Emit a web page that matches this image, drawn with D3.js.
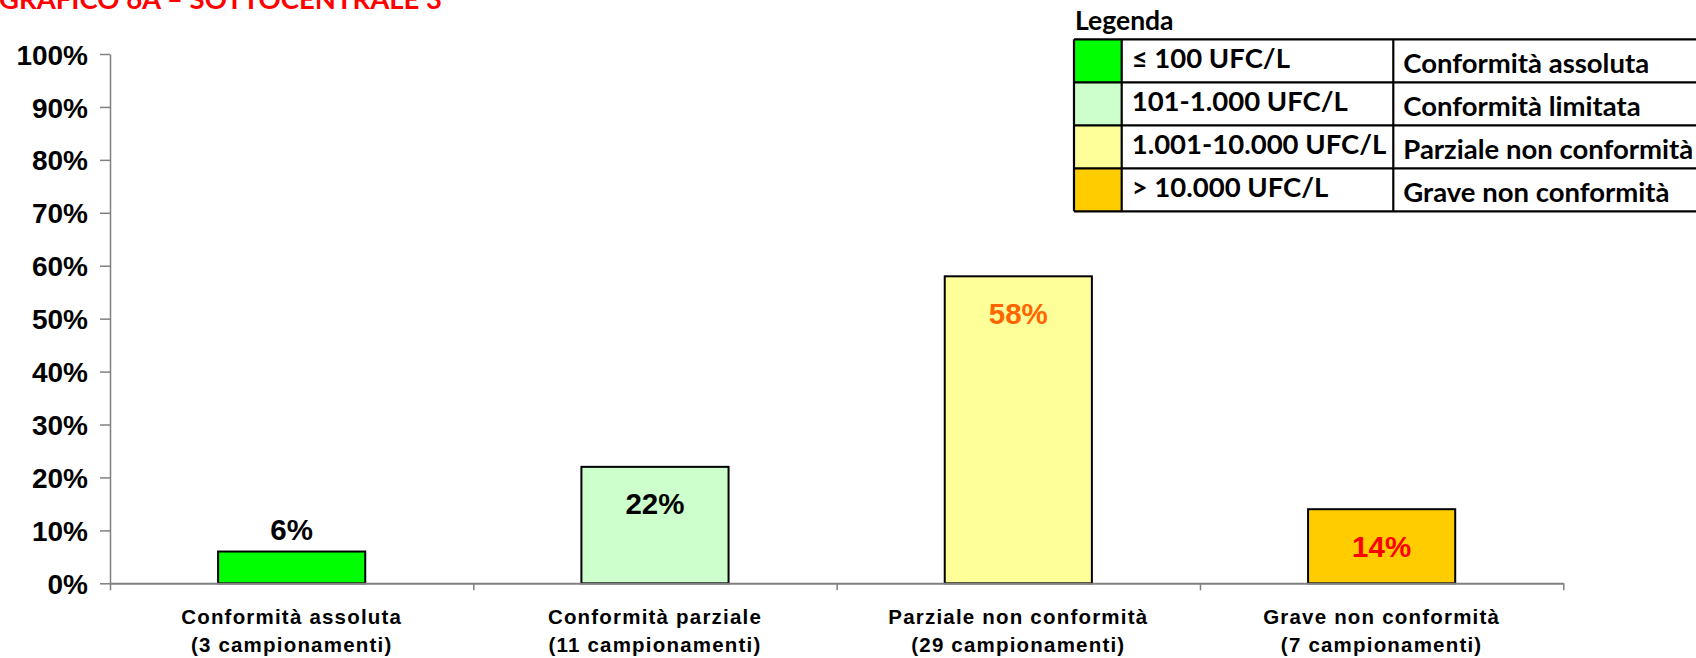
<!DOCTYPE html>
<html>
<head>
<meta charset="utf-8">
<script src="https://cdn.jsdelivr.net/npm/d3@7"></script>
<style>
  html, body { margin: 0; padding: 0; background: #fff; overflow: hidden; }
  svg { display: block; }
</style>
</head>
<body>
<svg id="chart" width="1696" height="658"></svg>
<script>
// ---- data ----
const categories = ["Conformità assoluta", "Conformità parziale", "Parziale non conformità", "Grave non conformità"];
const samples = ["(3 campionamenti)", "(11 campionamenti)", "(29 campionamenti)", "(7 campionamenti)"];
const values = [6, 22, 58, 14];
const barColors = ["#00FF00", "#CCFFCC", "#FFFF99", "#FFCC00"];
const labelColors = ["#000000", "#000000", "#FF6600", "#FF0000"];
const yTicks = [0, 10, 20, 30, 40, 50, 60, 70, 80, 90, 100];
const legendRanges = ["≤ 100 UFC/L", "101-1.000 UFC/L", "1.001-10.000 UFC/L", "> 10.000 UFC/L"];
const legendLabels = ["Conformità assoluta", "Conformità limitata", "Parziale non conformità", "Grave non conformità"];
const titleText = "GRAFICO 6A – SOTTOCENTRALE 3";

// ---- layout ----
const svg = d3.select("#chart");
const plot = { left: 110, right: 1563.3, top: 54, bottom: 583.3 };
const arial = "'Liberation Sans', Arial, sans-serif";
const calibri = "Lato, 'Open Sans', sans-serif";
const axisGray = "#808080";

const x = d3.scaleBand().domain(categories).range([plot.left, plot.right])
  .paddingInner(0.595).paddingOuter(0.2975);
const xBound = d3.scaleLinear().domain([0, categories.length]).range([plot.left, plot.right]);
const y = d3.scaleLinear().domain([0, 100]).range([plot.bottom, plot.top]);

// title (partially clipped at top, as in the original)
svg.append("text").attr("x", -1).attr("y", 9)
  .attr("fill", "#FF0000").attr("font-family", calibri).attr("font-weight", 700)
  .attr("font-size", 27.5).text(titleText);

// y axis
const yAxis = svg.append("g").attr("transform", `translate(${plot.left},0)`)
  .call(d3.axisLeft(y).tickValues(yTicks).tickFormat(d => d + "%")
    .tickSizeInner(10).tickSizeOuter(0).tickPadding(12));
yAxis.select(".domain").attr("stroke", axisGray).attr("stroke-width", 1.5);
yAxis.selectAll(".tick line").attr("stroke", axisGray).attr("stroke-width", 1.5);
yAxis.selectAll(".tick text").attr("font-family", arial).attr("font-weight", 700)
  .attr("font-size", 28).attr("fill", "#000").attr("dy", "0.36em");

// bars
svg.append("g").selectAll("rect").data(values).join("rect")
  .attr("x", (d, i) => x(categories[i]))
  .attr("y", d => y(d))
  .attr("width", x.bandwidth())
  .attr("height", d => y(0) - y(d))
  .attr("fill", (d, i) => barColors[i])
  .attr("stroke", "#000").attr("stroke-width", 2);

// x axis (ticks at category boundaries)
const xAxis = svg.append("g").attr("transform", `translate(0,${plot.bottom})`)
  .call(d3.axisBottom(xBound).tickValues(d3.range(categories.length + 1)).tickFormat("")
    .tickSizeInner(7).tickSizeOuter(0));
xAxis.select(".domain").attr("stroke", axisGray).attr("stroke-width", 2);
xAxis.selectAll(".tick line").attr("stroke", axisGray).attr("stroke-width", 1.5);

// value labels
svg.append("g").selectAll("text").data(values).join("text")
  .attr("x", (d, i) => x(categories[i]) + x.bandwidth() / 2)
  .attr("y", d => d < 10 ? y(d) - 22 : y(d) + 37)
  .attr("dy", "0.36em")
  .attr("text-anchor", "middle")
  .attr("font-family", arial).attr("font-weight", 700).attr("font-size", 29.5)
  .attr("fill", (d, i) => labelColors[i])
  .text(d => d + "%");

// category labels
const catG = svg.append("g").selectAll("text").data(categories).join("text")
  .attr("x", d => x(d) + x.bandwidth() / 2)
  .attr("text-anchor", "middle")
  .attr("font-family", arial).attr("font-weight", 700).attr("font-size", 20.5)
  .attr("letter-spacing", 1.2).attr("fill", "#000");
catG.append("tspan").attr("x", d => x(d) + x.bandwidth() / 2).attr("y", 623.5).text(d => d);
catG.append("tspan").attr("x", d => x(d) + x.bandwidth() / 2).attr("y", 652).text((d, i) => samples[i]);

// legend
const lg = { left: 1074, top: 39.3, rowH: 43, c1: 1121.7, c2: 1393.3, right: 1720 };
svg.append("text").attr("x", 1075).attr("y", 29.5)
  .attr("font-family", calibri).attr("font-weight", 700).attr("font-size", 26.5)
  .attr("fill", "#000").text("Legenda");
const rows = svg.append("g").selectAll("g").data(legendRanges).join("g")
  .attr("transform", (d, i) => `translate(0,${lg.top + i * lg.rowH})`);
rows.append("rect").attr("x", lg.left).attr("y", 0).attr("width", lg.c1 - lg.left).attr("height", lg.rowH)
  .attr("fill", (d, i) => barColors[i]);
rows.append("rect").attr("x", lg.c1).attr("y", 0).attr("width", lg.right - lg.c1).attr("height", lg.rowH)
  .attr("fill", "#fff");
rows.append("text").attr("x", lg.c1 + 10).attr("y", 28.5)
  .attr("font-family", calibri).attr("font-weight", 700).attr("font-size", 27.5)
  .attr("fill", "#000").text(d => d);
rows.append("text").attr("x", lg.c2 + 10).attr("y", 33.3)
  .attr("font-family", calibri).attr("font-weight", 700).attr("font-size", 27.5)
  .attr("fill", "#000").text((d, i) => legendLabels[i]);
// grid lines of legend table
const lines = svg.append("g").attr("stroke", "#000").attr("stroke-width", 2.2);
d3.range(legendRanges.length + 1).forEach(i => {
  lines.append("line").attr("x1", lg.left).attr("x2", lg.right)
    .attr("y1", lg.top + i * lg.rowH).attr("y2", lg.top + i * lg.rowH);
});
[lg.left, lg.c1, lg.c2].forEach(xx => {
  lines.append("line").attr("x1", xx).attr("x2", xx)
    .attr("y1", lg.top).attr("y2", lg.top + legendRanges.length * lg.rowH);
});
</script>
</body>
</html>
